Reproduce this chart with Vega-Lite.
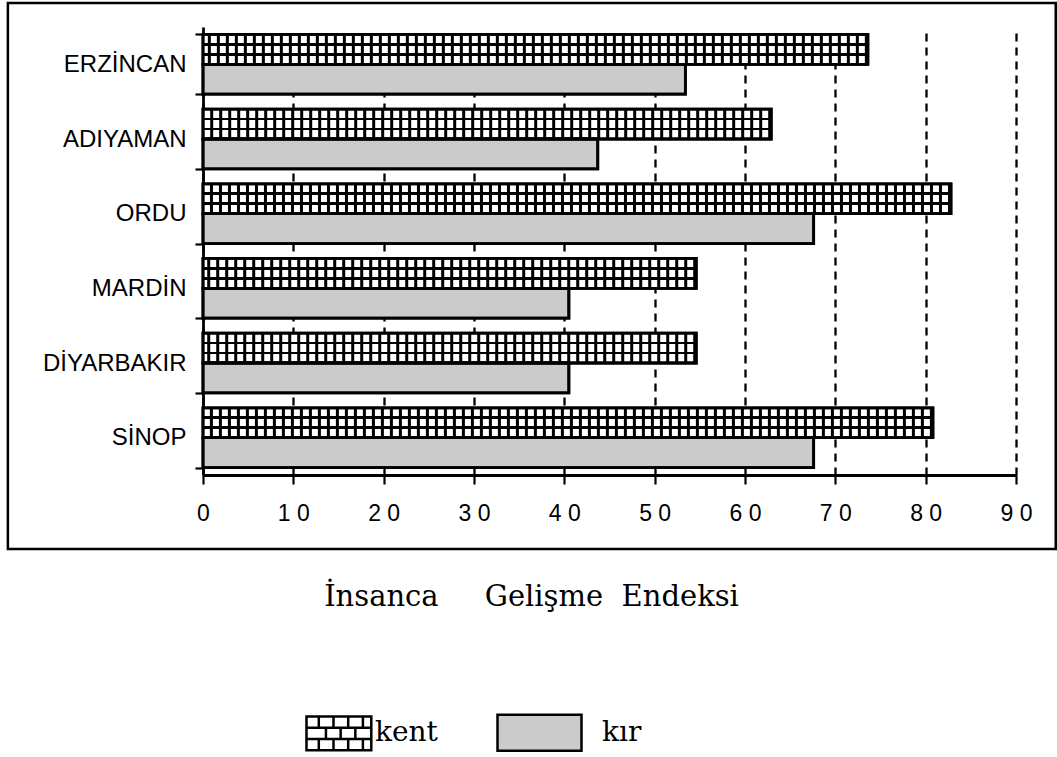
{
  "$schema": "https://vega.github.io/schema/vega-lite/v6.json",
  "autosize": "none",
  "width": 813,
  "height": 448,
  "padding": {"left": 203, "top": 27, "right": 41, "bottom": 282},
  "background": "white",
  "config": {
    "view": {"stroke": null},
    "font": "Liberation Sans",
    "legend": {
      "orient": "none",
      "legendX": 66,
      "legendY": 662,
      "direction": "horizontal",
      "padding": 0,
      "columnPadding": 54,
      "labelOffset": 19,
      "labelFont": "DejaVu Serif",
      "labelFontSize": 28,
      "labelColor": "black",
      "symbolSize": 7056,
      "symbolStrokeWidth": 2.5,
      "symbolOpacity": 1
    }
  },
  "data": {
    "values": [
      {"il": "ERZİNCAN", "tip": "kent", "deger": 73.6},
      {"il": "ERZİNCAN", "tip": "kır", "deger": 53.4},
      {"il": "ADIYAMAN", "tip": "kent", "deger": 62.9},
      {"il": "ADIYAMAN", "tip": "kır", "deger": 43.7},
      {"il": "ORDU", "tip": "kent", "deger": 82.8},
      {"il": "ORDU", "tip": "kır", "deger": 67.6},
      {"il": "MARDİN", "tip": "kent", "deger": 54.6},
      {"il": "MARDİN", "tip": "kır", "deger": 40.5},
      {"il": "DİYARBAKIR", "tip": "kent", "deger": 54.6},
      {"il": "DİYARBAKIR", "tip": "kır", "deger": 40.5},
      {"il": "SİNOP", "tip": "kent", "deger": 80.8},
      {"il": "SİNOP", "tip": "kır", "deger": 67.6}
    ]
  },
  "resolve": {"scale": {"x": "independent", "y": "independent"}, "axis": {"x": "independent", "y": "independent"}},
  "layer": [
    {
      "data": {"values": [{"cerceve": 1}]},
      "mark": {"type": "rect", "fill": null, "stroke": "black", "strokeWidth": 2.5},
      "encoding": {
        "x": {"datum": -21.6, "type": "quantitative", "axis": null, "scale": {"domain": [0, 90], "nice": false, "zero": false}},
        "x2": {"datum": 94.4},
        "y": {"datum": -24, "type": "quantitative", "axis": null, "scale": {"domain": [0, 448], "reverse": true, "nice": false, "zero": false}},
        "y2": {"datum": 522}
      }
    },
    {
      "layer": [
        {
          "mark": {"type": "point", "filled": true, "opacity": 0, "strokeWidth": 2.5},
          "encoding": {
            "x": {"field": "deger", "type": "quantitative"},
            "y": {"field": "il", "type": "nominal", "title": null},
            "yOffset": {"field": "tip", "type": "nominal"},
            "fill": {"field": "tip", "type": "nominal", "title": null, "scale": {"domain": ["kent", "kır"], "range": ["white", "#cbcbcb"]}},
            "stroke": {"field": "tip", "type": "nominal", "title": null, "scale": {"domain": ["kent", "kır"], "range": ["black", "black"]}},
            "shape": {"field": "tip", "type": "nominal", "title": null, "scale": {"domain": ["kent", "kır"], "range": [
              "M-0.143,-0.4H1.4V0.4H-0.143Z M-0.143,-0.133H1.4 M-0.143,0.133H1.4 M0.15,-0.4V-0.133 M0.5,-0.4V-0.133 M0.85,-0.4V-0.133 M1.2,-0.4V-0.133 M0.32,-0.133V0.133 M0.67,-0.133V0.133 M1.02,-0.133V0.133 M0.15,0.133V0.4 M0.5,0.133V0.4 M0.85,0.133V0.4 M1.2,0.133V0.4",
              "M-1,-0.43H1V0.43H-1Z"
            ]}}
          }
        },
        {
          "transform": [{"filter": "datum.tip === 'kent'"}],
          "mark": {
            "type": "bar",
            "stroke": "black",
            "strokeWidth": 2.8,
            "fill": {
              "gradient": "linear", "x1": 0, "y1": 0, "x2": 0, "y2": 1,
              "stops": [
                {"offset": 0, "color": "white"},
                {"offset": 0.29, "color": "white"},
                {"offset": 0.29, "color": "black"},
                {"offset": 0.38, "color": "black"},
                {"offset": 0.38, "color": "white"},
                {"offset": 0.62, "color": "white"},
                {"offset": 0.62, "color": "black"},
                {"offset": 0.71, "color": "black"},
                {"offset": 0.71, "color": "white"},
                {"offset": 1, "color": "white"}
              ]
            }
          },
          "encoding": {
            "x": {
              "field": "deger", "type": "quantitative",
              "scale": {"domain": [0, 90], "nice": false, "zero": true},
              "axis": {
                "values": [0, 10, 20, 30, 40, 50, 60, 70, 80, 90],
                "title": "İnsanca\u00a0\u00a0\u00a0\u00a0\u00a0Gelişme\u00a0\u00a0Endeksi",
                "titleFont": "DejaVu Serif",
                "titleFontSize": 29,
                "titleFontWeight": "normal",
                "titleColor": "black",
                "titleX": 328,
                "titleY": 130,
                "titleAlign": "center",
                "titleBaseline": "alphabetic",
                "labelFont": "Liberation Sans",
                "labelFontSize": 23,
                "labelColor": "black",
                "labelExpr": "join(split(datum.label, ''), ' ')",
                "labelPadding": 18,
                "labelFlush": false,
                "tickSize": 9,
                "tickWidth": 2.2,
                "tickColor": "black",
                "domainColor": "black",
                "domainWidth": 2.8,
                "grid": true,
                "gridColor": "black",
                "gridWidth": 2.3,
                "gridDash": [8, 6],
                "gridOpacity": 1
              }
            },
            "y": {
              "field": "il", "type": "nominal",
              "scale": {"domain": ["ERZİNCAN", "ADIYAMAN", "ORDU", "MARDİN", "DİYARBAKIR", "SİNOP"], "paddingInner": 0.2, "paddingOuter": 0.1},
              "axis": {
                "title": null,
                "labelFont": "Liberation Sans",
                "labelFontSize": 24,
                "labelColor": "black",
                "labelPadding": 9,
                "tickBand": "extent",
                "tickSize": 8,
                "tickWidth": 2.2,
                "tickColor": "black",
                "domainColor": "black",
                "domainWidth": 2.8,
                "grid": false
              }
            },
            "yOffset": {"field": "tip", "type": "nominal", "scale": {"domain": ["kent", "kır"], "paddingInner": 0, "paddingOuter": 0}}
          }
        },
        {
          "transform": [{"filter": "datum.tip === 'kır'"}],
          "mark": {"type": "bar", "fill": "#cbcbcb", "stroke": "black", "strokeWidth": 2.8},
          "encoding": {
            "x": {"field": "deger", "type": "quantitative"},
            "y": {"field": "il", "type": "nominal", "title": null},
            "yOffset": {"field": "tip", "type": "nominal"}
          }
        },
        {
          "transform": [{"filter": "datum.tip === 'kent'"}],
          "mark": {"type": "rule", "stroke": "black", "strokeWidth": 28, "strokeDash": [3, 6], "strokeCap": "butt"},
          "encoding": {
            "x": {"field": "deger", "type": "quantitative"},
            "x2": {"datum": 0},
            "y": {"field": "il", "type": "nominal", "title": null, "bandPosition": 0.25}
          }
        },
        {
          "mark": {"type": "bar", "fill": null, "stroke": "black", "strokeWidth": 2.8},
          "encoding": {
            "x": {"field": "deger", "type": "quantitative"},
            "y": {"field": "il", "type": "nominal", "title": null},
            "yOffset": {"field": "tip", "type": "nominal"}
          }
        }
      ]
    }
  ]
}
